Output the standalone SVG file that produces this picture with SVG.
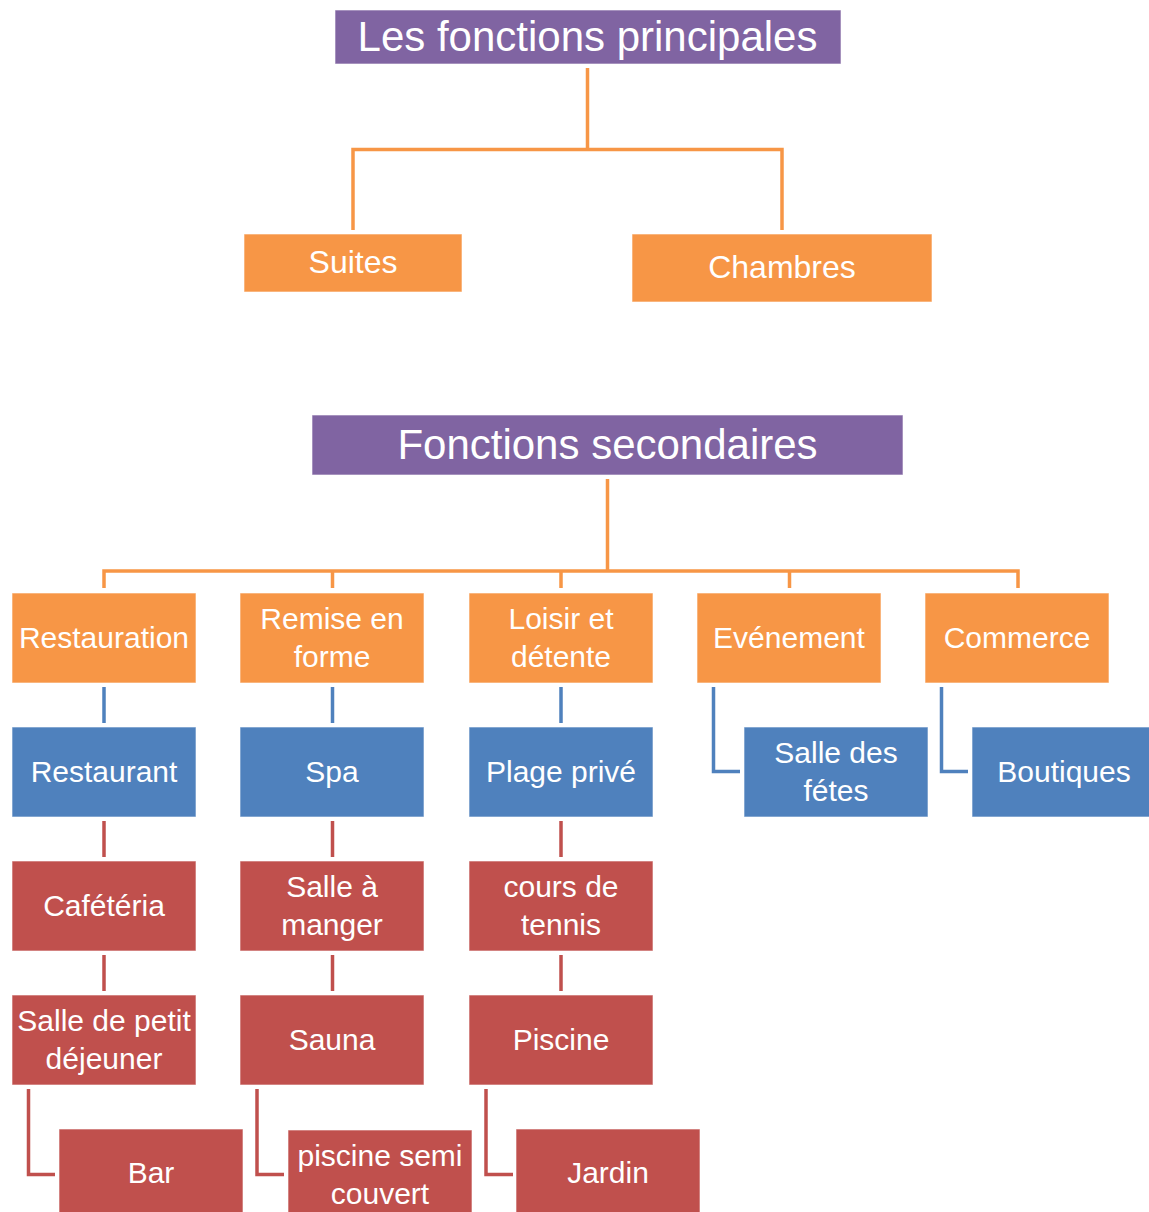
<svg xmlns="http://www.w3.org/2000/svg" width="1149" height="1212" viewBox="0 0 1149 1212">
<style>
  .t { font-family: "Liberation Sans", Arial, sans-serif; fill: #ffffff; text-anchor: middle; font-size: 30px; }
  .big { font-size: 42px; }
  .mid { font-size: 32px; }
  .purple { fill: #8064A2; }
  .orange { fill: #F79646; }
  .blue { fill: #4F81BD; }
  .red { fill: #C0504D; }
  .box { stroke: #ffffff; stroke-opacity: 0.6; stroke-width: 1; }
  .co { stroke: #F79646; stroke-width: 3.5; fill: none; }
  .cb { stroke: #4F81BD; stroke-width: 3.5; fill: none; }
  .cr { stroke: #C0504D; stroke-width: 3.5; fill: none; }
</style>
<rect width="1149" height="1212" fill="#ffffff"/>

<g id="connectors">
  <path class="co" d="M587.5 68 V149.5 M353 230 V149.5 H782 V230"/>
  <path class="co" d="M607.5 479 V571 M104 588 V571 H1018 V588 M332.5 571 V588 M561 571 V588 M789.5 571 V588"/>
  <path class="cb" d="M104 687 V723 M332.5 687 V723 M561 687 V723"/>
  <path class="cb" d="M713.5 687 V771.5 H740 M941.5 687 V771.5 H968"/>
  <path class="cr" d="M104 821 V857 M332.5 821 V857 M561 821 V857"/>
  <path class="cr" d="M104 955 V991 M332.5 955 V991 M561 955 V991"/>
  <path class="cr" d="M28.5 1089 V1174.5 H55 M257 1089 V1174.5 H284 M486 1089 V1174.5 H513"/>
</g>

<g id="n-principales"><rect class="purple box" x="335" y="10" width="506" height="54"/><text class="t big" x="587.5" y="51">Les fonctions principales</text></g>
<g id="n-suites"><rect class="orange box" x="244" y="234" width="218" height="58"/><text class="t mid" x="353" y="273">Suites</text></g>
<g id="n-chambres"><rect class="orange box" x="632" y="234" width="300" height="68"/><text class="t mid" x="782" y="278">Chambres</text></g>

<g id="n-secondaires"><rect class="purple box" x="312" y="415" width="591" height="60"/><text class="t big" x="607.5" y="459">Fonctions secondaires</text></g>

<g id="n-restauration"><rect class="orange box" x="12" y="593" width="184" height="90"/><text class="t" x="104" y="648">Restauration</text></g>
<g id="n-remise"><rect class="orange box" x="240" y="593" width="184" height="90"/><text class="t" x="332" y="629">Remise en</text><text class="t" x="332" y="667">forme</text></g>
<g id="n-loisir"><rect class="orange box" x="469" y="593" width="184" height="90"/><text class="t" x="561" y="629">Loisir et</text><text class="t" x="561" y="667">détente</text></g>
<g id="n-evenement"><rect class="orange box" x="697" y="593" width="184" height="90"/><text class="t" x="789" y="648">Evénement</text></g>
<g id="n-commerce"><rect class="orange box" x="925" y="593" width="184" height="90"/><text class="t" x="1017" y="648">Commerce</text></g>

<g id="n-restaurant"><rect class="blue box" x="12" y="727" width="184" height="90"/><text class="t" x="104" y="782">Restaurant</text></g>
<g id="n-spa"><rect class="blue box" x="240" y="727" width="184" height="90"/><text class="t" x="332" y="782">Spa</text></g>
<g id="n-plage"><rect class="blue box" x="469" y="727" width="184" height="90"/><text class="t" x="561" y="782">Plage privé</text></g>
<g id="n-salle-fetes"><rect class="blue box" x="744" y="727" width="184" height="90"/><text class="t" x="836" y="763">Salle des</text><text class="t" x="836" y="801">fétes</text></g>
<g id="n-boutiques"><rect class="blue box" x="972" y="727" width="184" height="90"/><text class="t" x="1064" y="782">Boutiques</text></g>

<g id="n-cafeteria"><rect class="red box" x="12" y="861" width="184" height="90"/><text class="t" x="104" y="916">Cafétéria</text></g>
<g id="n-salle-manger"><rect class="red box" x="240" y="861" width="184" height="90"/><text class="t" x="332" y="897">Salle à</text><text class="t" x="332" y="935">manger</text></g>
<g id="n-tennis"><rect class="red box" x="469" y="861" width="184" height="90"/><text class="t" x="561" y="897">cours de</text><text class="t" x="561" y="935">tennis</text></g>

<g id="n-petit-dej"><rect class="red box" x="12" y="995" width="184" height="90"/><text class="t" x="104" y="1031">Salle de petit</text><text class="t" x="104" y="1069">déjeuner</text></g>
<g id="n-sauna"><rect class="red box" x="240" y="995" width="184" height="90"/><text class="t" x="332" y="1050">Sauna</text></g>
<g id="n-piscine"><rect class="red box" x="469" y="995" width="184" height="90"/><text class="t" x="561" y="1050">Piscine</text></g>

<g id="n-bar"><rect class="red box" x="59" y="1129" width="184" height="90"/><text class="t" x="151" y="1183">Bar</text></g>
<g id="n-piscine-semi"><rect class="red box" x="288" y="1130" width="184" height="90"/><text class="t" x="380" y="1166">piscine semi</text><text class="t" x="380" y="1204">couvert</text></g>
<g id="n-jardin"><rect class="red box" x="516" y="1129" width="184" height="90"/><text class="t" x="608" y="1183">Jardin</text></g>
</svg>
